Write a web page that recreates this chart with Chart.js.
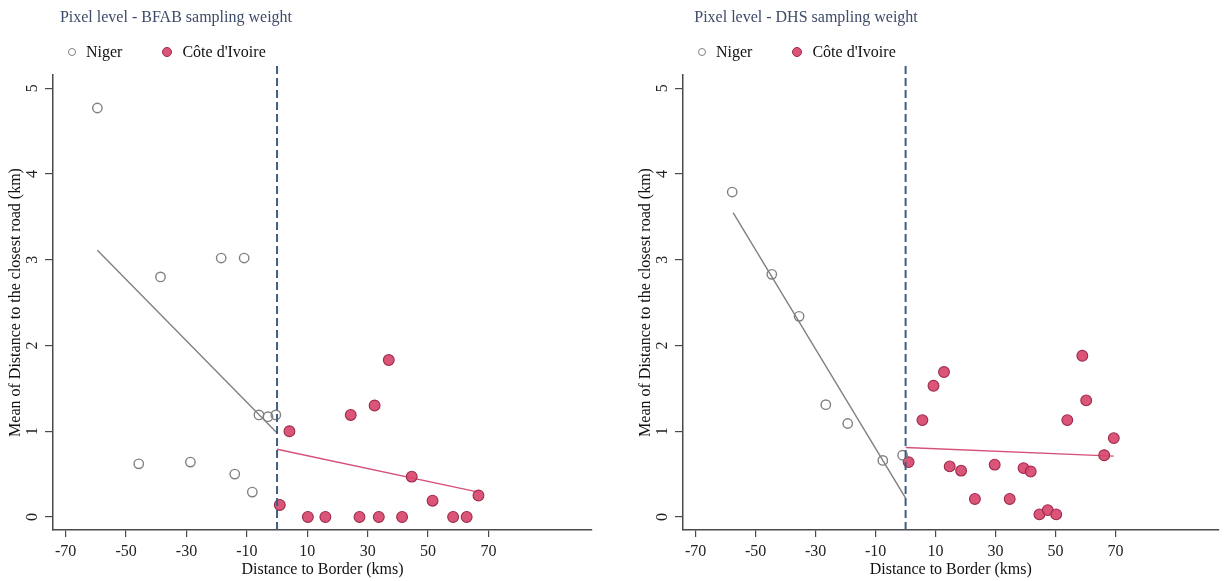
<!DOCTYPE html>
<html lang="en">
<head>
<meta charset="UTF-8">
<title>Mean distance to the closest road by distance to border</title>
<script src="https://cdn.jsdelivr.net/npm/chart.js"></script>
<style>
  body { margin: 0; background: #fff; overflow: hidden; font-family: 'Liberation Serif', 'Times New Roman', serif; }
  .panel { position: absolute; top: 0; height: 581px; }
  #panelLeft { left: 0; width: 630px; }
  #panelRight { left: 630px; width: 595px; }
  .panel canvas { position: absolute; left: 0; top: 0; }
  .title { position: absolute; left: 26px; width: 300px; top: 8px; text-align: center;
           font-size: 16px; line-height: 18px; color: #3e4b68; white-space: nowrap; }
  .legend { position: absolute; left: 68px; top: 43px; font-size: 16px; line-height: 18px;
            color: #111; white-space: nowrap; display: flex; }
  .legend .item { display: flex; align-items: center; margin-right: 40px; }
  .legend i { display: inline-block; box-sizing: border-box; border-radius: 50%; margin-right: 10px; }
</style>
</head>
<body>
<div class="panel" id="panelLeft">
  <canvas id="chartBfab" width="630" height="581"></canvas>
  <div class="title">Pixel level - BFAB sampling weight</div>
  <div class="legend" id="legendBfab"></div>
</div>
<div class="panel" id="panelRight">
  <canvas id="chartDhs" width="595" height="581"></canvas>
  <div class="title">Pixel level - DHS sampling weight</div>
  <div class="legend" id="legendDhs"></div>
</div>
<script>
  // tick labels
  const xTicks = [-70, -50, -30, -10, 10, 30, 50, 70];
  const yTicks = [0, 1, 2, 3, 4, 5];

  // BFAB sampling weight panel
  const bfabNigerX = [-59.5, -45.8, -38.6, -28.7, -18.5, -14.0, -10.9, -8.2, -6.0, -3.0, -0.4];
  const bfabNigerY = [4.77, 0.62, 2.80, 0.64, 3.02, 0.50, 3.02, 0.29, 1.19, 1.17, 1.19];
  const bfabCivX = [0.9, 4.1, 10.2, 16.0, 24.4, 27.3, 32.3, 33.7, 37.0, 41.4, 44.6, 51.5, 58.3, 62.8, 66.7];
  const bfabCivY = [0.14, 1.00, 0, 0, 1.19, 0, 1.30, 0, 1.83, 0, 0.47, 0.19, 0, 0, 0.25];
  const bfabNigerFitX = [-59.5, 0];
  const bfabNigerFitY = [3.11, 0.98];
  const bfabCivFitX = [0, 66.7];
  const bfabCivFitY = [0.79, 0.29];

  // DHS sampling weight panel
  const dhsNigerX = [-57.8, -44.6, -35.5, -26.6, -19.3, -7.6, -1.0];
  const dhsNigerY = [3.79, 2.83, 2.34, 1.31, 1.09, 0.66, 0.72];
  const dhsCivX = [1.0, 5.6, 9.3, 12.8, 14.7, 18.5, 23.1, 29.7, 34.7, 39.3, 41.7, 44.6, 47.4, 50.2, 53.9, 58.9, 60.2, 66.2, 69.4];
  const dhsCivY = [0.64, 1.13, 1.53, 1.69, 0.59, 0.54, 0.21, 0.61, 0.21, 0.57, 0.53, 0.03, 0.08, 0.03, 1.13, 1.88, 1.36, 0.72, 0.92];
  const dhsNigerFitX = [-57.5, 0];
  const dhsNigerFitY = [3.55, 0.22];
  const dhsCivFitX = [0, 69.4];
  const dhsCivFitY = [0.81, 0.71];

  const borderX = 0;

  const font = "'Liberation Serif', 'Times New Roman', serif";
  const axisColor = '#4a4a4a';
  const nigerColor = '#808080';
  const civFill = 'rgba(216, 70, 108, 0.92)';
  const civEdge = '#9e2a4b';
  const civLine = '#d45277';
  const dashColor = '#3f5d80';

  const xMin = -74.2, xMax = 104.3;
  const yMin = -0.152, yMax = 5.155;

  const pts = (xs, ys) => xs.map((x, i) => ({ x: x, y: ys[i] }));

  function makePanel(canvasId, legendId, d, padRight) {
    const chart = new Chart(document.getElementById(canvasId), {
      type: 'scatter',
      data: {
        datasets: [
          {
            label: 'Niger',
            data: pts(d.nigerX, d.nigerY),
            pointRadius: 4.7,
            pointBorderWidth: 1.4,
            borderColor: nigerColor,
            backgroundColor: 'rgba(255,255,255,0)',
            order: 1
          },
          {
            label: "Côte d'Ivoire",
            data: pts(d.civX, d.civY),
            pointRadius: 5.4,
            pointBorderWidth: 1.1,
            borderColor: civEdge,
            backgroundColor: civFill,
            order: 1
          },
          {
            label: 'Niger fit',
            type: 'line',
            data: pts(d.nigerFitX, d.nigerFitY),
            borderColor: nigerColor,
            borderWidth: 1.4,
            pointRadius: 0,
            fill: false,
            order: 2
          },
          {
            label: "Côte d'Ivoire fit",
            type: 'line',
            data: pts(d.civFitX, d.civFitY),
            borderColor: civLine,
            borderWidth: 1.4,
            pointRadius: 0,
            fill: false,
            order: 2
          },
          {
            label: 'Border',
            type: 'line',
            data: [{ x: borderX, y: yMin }, { x: borderX, y: 5.3 }],
            borderColor: dashColor,
            borderWidth: 2,
            borderDash: [8, 4],
            pointRadius: 0,
            fill: false,
            clip: false,
            order: 0
          }
        ]
      },
      options: {
        responsive: false,
        animation: false,
        layout: { padding: { top: 75, right: padRight, bottom: 0, left: 0 } },
        plugins: {
          legend: { display: false },
          tooltip: { enabled: false }
        },
        scales: {
          x: {
            type: 'linear',
            min: xMin,
            max: xMax,
            afterBuildTicks: s => { s.ticks = xTicks.map(v => ({ value: v })); },
            afterFit: s => { s.height = 51; },
            grid: { drawOnChartArea: false, drawTicks: true, tickLength: 7, color: axisColor, lineWidth: 1.2 },
            border: { display: true, color: axisColor, width: 1.5 },
            ticks: { color: '#222', font: { family: font, size: 16 }, padding: 5, maxRotation: 0, autoSkip: false },
            title: {
              display: true,
              text: 'Distance to Border (kms)',
              color: '#111',
              font: { family: font, size: 16 },
              padding: { top: 0, bottom: 2 }
            }
          },
          y: {
            type: 'linear',
            min: yMin,
            max: yMax,
            afterBuildTicks: s => { s.ticks = yTicks.map(v => ({ value: v })); },
            afterFit: s => { s.width = 53; },
            grid: { drawOnChartArea: false, drawTicks: true, tickLength: 8, color: axisColor, lineWidth: 1.2 },
            border: { display: true, color: axisColor, width: 1.5 },
            ticks: {
              color: '#222', font: { family: font, size: 16 }, padding: 8,
              minRotation: 90, maxRotation: 90, crossAlign: 'center', autoSkip: false
            },
            title: {
              display: true,
              text: 'Mean of Distance to the closest road (km)',
              color: '#111',
              font: { family: font, size: 16 },
              padding: { top: 6, bottom: 0 }
            }
          }
        }
      }
    });

    // legend as html, built from the two scatter datasets
    const box = document.getElementById(legendId);
    chart.data.datasets.slice(0, 2).forEach((ds, i) => {
      const item = document.createElement('span');
      item.className = 'item';
      const mark = document.createElement('i');
      const size = i === 0 ? 8 : 10;
      mark.style.width = size + 'px';
      mark.style.height = size + 'px';
      mark.style.background = ds.backgroundColor;
      mark.style.border = (i === 0 ? 1.4 : 1) + 'px solid ' + ds.borderColor;
      item.appendChild(mark);
      item.appendChild(document.createTextNode(ds.label));
      box.appendChild(item);
    });
    return chart;
  }

  makePanel('chartBfab', 'legendBfab', {
    nigerX: bfabNigerX, nigerY: bfabNigerY, civX: bfabCivX, civY: bfabCivY,
    nigerFitX: bfabNigerFitX, nigerFitY: bfabNigerFitY, civFitX: bfabCivFitX, civFitY: bfabCivFitY
  }, 38);

  makePanel('chartDhs', 'legendDhs', {
    nigerX: dhsNigerX, nigerY: dhsNigerY, civX: dhsCivX, civY: dhsCivY,
    nigerFitX: dhsNigerFitX, nigerFitY: dhsNigerFitY, civFitX: dhsCivFitX, civFitY: dhsCivFitY
  }, 5);
</script>
</body>
</html>
